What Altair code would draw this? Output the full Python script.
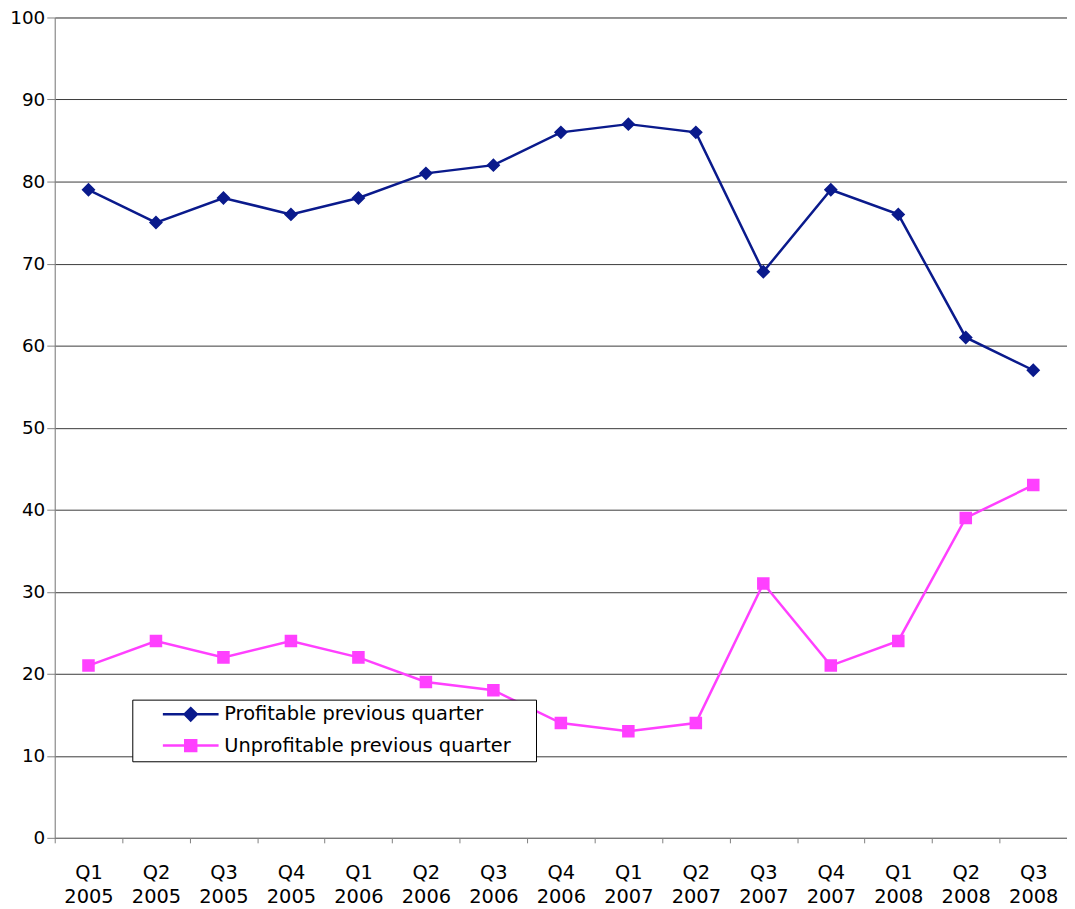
import altair as alt
import pandas as pd

quarters = ["Q1 2005", "Q2 2005", "Q3 2005", "Q4 2005",
            "Q1 2006", "Q2 2006", "Q3 2006", "Q4 2006",
            "Q1 2007", "Q2 2007", "Q3 2007", "Q4 2007",
            "Q1 2008", "Q2 2008", "Q3 2008"]
profitable = [79, 75, 78, 76, 78, 81, 82, 86, 87, 86, 69, 79, 76, 61, 57]
unprofitable = [21, 24, 22, 24, 22, 19, 18, 14, 13, 14, 31, 21, 24, 39, 43]
series_names = ["Profitable previous quarter", "Unprofitable previous quarter"]
series_colors = ["#0A1A8C", "#FF40FF"]
y_ticks = list(range(0, 101, 10))

rows = []
for name, vals in zip(series_names, [profitable, unprofitable]):
    for q, v in zip(quarters, vals):
        rows.append({"quarter": q, "series": name, "value": v})
df = pd.DataFrame(rows)

FONT = "DejaVu Sans"

# Symbol paths: a horizontal stroke (visible only when stroked, i.e. in the legend),
# an empty zero-length segment that widens the legend box, and the filled marker.
path_diamond = "M-4.575,0L4.575,0M55,0L55,0M0,-1L1,0L0,1L-1,0Z"
path_square = "M-4.575,0L4.575,0M55,0L55,0M-0.9,-0.9L0.9,-0.9L0.9,0.9L-0.9,0.9Z"

legend = alt.Legend(
    title=None,
    orient="none",
    direction="vertical",
    legendX=78,
    legendY=686,
    padding=5,
    rowPadding=9.5,
    symbolOffset=44,
    symbolSize=150,
    symbolStrokeWidth=2.5,
    symbolOpacity=1,
    labelOffset=24,
    labelFont=FONT,
    labelFontSize=19.5,
    labelColor="#000000",
    labelLimit=500,
    strokeColor="#000000",
    fillColor="#FFFFFF",
)

x = alt.X(
    "quarter:N",
    sort=quarters,
    scale=alt.Scale(type="band", paddingInner=0, paddingOuter=0),
    axis=alt.Axis(
        title=None,
        labelAngle=0,
        tickBand="extent",
        labelExpr="split(datum.label, ' ')",
        labelFont=FONT,
        labelFontSize=19.5,
        labelColor="#000000",
        labelLineHeight=24,
        labelPadding=21,
        tickSize=5,
        tickColor="#808080",
        domainColor="#808080",
        grid=False,
    ),
)
y = alt.Y(
    "value:Q",
    scale=alt.Scale(domain=[0, 100], nice=False),
    axis=alt.Axis(
        title=None,
        values=y_ticks,
        labelFont=FONT,
        labelFontSize=18.5,
        labelColor="#000000",
        labelPadding=2,
        tickSize=8,
        tickColor="#808080",
        domainColor="#808080",
        grid=True,
        gridColor="#3a3a3a",
        gridWidth=1,
    ),
)
color = alt.Color("series:N", scale=alt.Scale(domain=series_names, range=series_colors), legend=legend)
shape = alt.Shape("series:N", scale=alt.Scale(domain=series_names, range=[path_diamond, path_square]), legend=legend)

base = alt.Chart(df)
lines = base.mark_line(strokeWidth=2.5).encode(x=x, y=y, color=color)
points = base.mark_point(filled=True, opacity=1, size=196, strokeWidth=0).encode(
    x=x,
    y=y,
    color=color,
    shape=shape,
)

chart = (
    alt.layer(lines, points)
    .properties(
        width=1018,
        height=825,
        autosize=alt.AutoSizeParams(type="none"),
        padding={"left": 47, "top": 7, "right": 0, "bottom": 67},
    )
    .configure_view(stroke=None)
    .configure(background="#FFFFFF")
)

chart.save("out.html", embed_options={"renderer": "svg", "actions": False})
